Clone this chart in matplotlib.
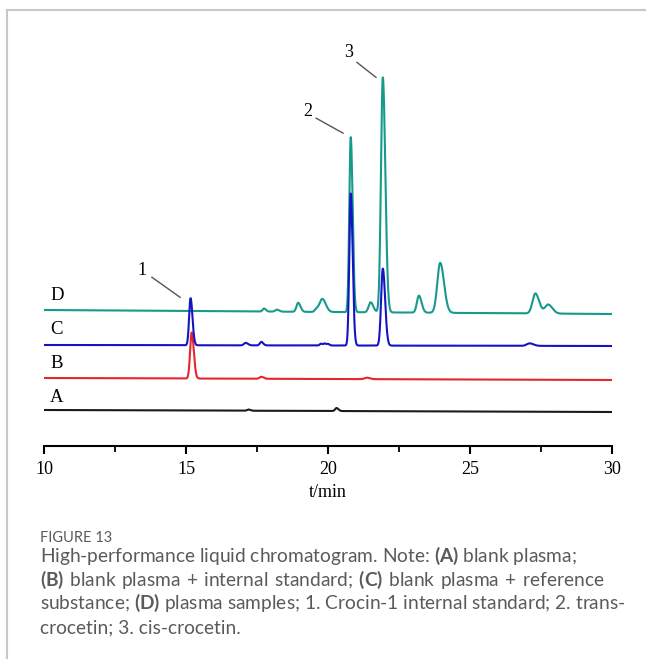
import numpy as np
import matplotlib
matplotlib.use("Agg")
import matplotlib.pyplot as plt
from matplotlib.lines import Line2D

plt.rcParams["mathtext.fontset"] = "custom"
plt.rcParams["mathtext.rm"] = "Lato"
plt.rcParams["mathtext.bf"] = "Lato:bold"

# ---- chromatogram data: baseline level and peak tables (time, height, sigma) ----
traces = ["A", "B", "C", "D"]
colors = {"A": "#1a1a1a", "B": "#e8252d", "C": "#1414c4", "D": "#169a8c"}
baseline_start = {"A": 36.0, "B": 68.0, "C": 101.0, "D": 136.0}
baseline_end = {"A": 34.0, "B": 66.0, "C": 100.0, "D": 132.0}

peaks_A_time = [17.2, 20.3]
peaks_A_height = [1.2, 3.0]
peaks_A_sigma = [0.05, 0.05]

peaks_B_time = [15.2, 17.65, 21.37]
peaks_B_height = [46.0, 2.0, 1.5]
peaks_B_sigma = [0.055, 0.06, 0.08]

peaks_C_time = [15.16, 17.1, 17.65, 19.75, 19.88, 20.0, 20.8, 21.93, 27.1]
peaks_C_height = [47.0, 2.5, 3.5, 1.8, 2.0, 1.5, 152.0, 77.0, 2.5]
peaks_C_sigma = [0.05, 0.06, 0.05, 0.04, 0.04, 0.04, 0.05, 0.06, 0.1]

peaks_D_time = [17.75, 18.2, 18.95, 19.6, 19.8, 20.8, 21.5, 21.93, 23.2, 23.95, 27.3, 27.75]
peaks_D_height = [3.0, 2.0, 9.0, 3.0, 13.0, 175.0, 10.0, 235.0, 17.0, 50.0, 20.0, 9.0]
peaks_D_sigma = [0.05, 0.06, 0.06, 0.06, 0.09, 0.05, 0.07, 0.065, 0.07, 0.1, 0.1, 0.11]

peak_tables = {
    "A": (peaks_A_time, peaks_A_height, peaks_A_sigma),
    "B": (peaks_B_time, peaks_B_height, peaks_B_sigma),
    "C": (peaks_C_time, peaks_C_height, peaks_C_sigma),
    "D": (peaks_D_time, peaks_D_height, peaks_D_sigma),
}

# numbered peak labels: (label, trace, retention time)
peak_labels = [("1", "C", 15.16), ("2", "D", 20.8), ("3", "D", 21.93)]

x_ticks = [10, 15, 20, 25, 30]
x_minor = [12.5, 17.5, 22.5, 27.5]

t = np.linspace(10, 30, 8001)


def trace_signal(name):
    base = np.interp(t, [10, 30], [baseline_start[name], baseline_end[name]])
    times, heights, sigmas = peak_tables[name]
    sig = base.copy()
    for tm, h, s in zip(times, heights, sigmas):
        left = np.exp(-0.5 * ((t - tm) / s) ** 2)
        right = np.exp(-0.5 * ((t - tm) / (s * 1.35)) ** 2)
        sig += h * np.where(t < tm, left, right)
    return sig


def peak_top(name, tm):
    return float(np.interp(tm, t, trace_signal(name)))


fig = plt.figure(figsize=(6.46, 6.59), dpi=100)
W, H = 646, 659

# page frame (top and left rule)
fig.add_artist(Line2D([7 / W, 1.0], [1 - 10 / H, 1 - 10 / H], color="#c8c8c8", lw=1.5))
fig.add_artist(Line2D([7 / W, 7 / W], [0, 1 - 10 / H], color="#c8c8c8", lw=1.5))

ax = fig.add_axes([44 / W, (H - 446) / H, (612 - 44) / W, 406 / H])
ax.set_xlim(10, 30)
ax.set_ylim(0, 406)

# draw D first so C/B sit on top where peaks overlap
for name in ["A", "D", "B", "C"]:
    ax.plot(t, trace_signal(name), color=colors[name], lw=1.5, solid_joinstyle="round")

serif = "Liberation Serif"
label_y = {"A": 49, "B": 83, "C": 117, "D": 151}
for name in traces:
    ax.text(10.45, label_y[name], name, fontsize=13.5, family=serif, ha="center", va="center")

# numbered annotations with leader lines
offsets = {"1": (-1.7, 28, -1.36, 21, -0.37, 1), "2": (-1.5, 26, -1.22, 19, -0.27, 4),
           "3": (-1.19, 25, -0.91, 15, -0.24, 0)}
for lab, name, tm in peak_labels:
    top = peak_top(name, tm)
    dx_l, dy_l, x0, y0, x1, y1 = offsets[lab]
    ax.plot([tm + x0, tm + x1], [top + y0, top + y1], color="#555555", lw=1.0, clip_on=False)
    ax.text(tm + dx_l, top + dy_l, lab, fontsize=13, family=serif, ha="center", va="center")

for s in ["top", "right", "left"]:
    ax.spines[s].set_visible(False)
ax.spines["bottom"].set_linewidth(1.5)
ax.set_yticks([])
ax.set_xticks(x_ticks)
ax.set_xticks(x_minor, minor=True)
ax.tick_params(axis="x", which="major", direction="out", length=6, width=1.5, pad=5)
ax.tick_params(axis="x", which="minor", direction="out", length=4, width=1.3)
for lbl in ax.get_xticklabels():
    lbl.set_fontfamily(serif)
    lbl.set_fontsize(13)
ax.set_xlabel("t/min", fontsize=13, family=serif, labelpad=4)

# caption: one text per line, bold runs via mathtext, extra word gaps for justified lines
cap_font = "Lato"
cap_color = "#5a5a5a"
cap_size = 13.8
fig.text(40 / W, 1 - 542 / H, "FIGURE 13", fontsize=10.5, family=cap_font, color=cap_color,
         va="baseline")
caption_lines = [
    [("High-performance liquid chromatogram. Note: ", False), ("(A)", True),
     (" blank plasma;", False)],
    [("(B)", True), (" blank plasma + internal standard; ", False), ("(C)", True),
     (" blank plasma + reference", False)],
    [("substance; ", False), ("(D)", True),
     (" plasma samples; 1. Crocin-1 internal standard; 2. trans-", False)],
    [("crocetin; 3. cis-crocetin.", False)],
]
line_base = [562, 586, 609, 633]
line_right = [None, 605, 615, None]   # justified lines end at the right margin
fig.canvas.draw()
renderer = fig.canvas.get_renderer()
em_px = cap_size * fig.dpi / 72.0


def build(runs, extra_em):
    out = ""
    for txt, bold in runs:
        if bold:
            out += r"$\mathbf{" + txt + "}$"
        else:
            if extra_em > 0:
                txt = txt.replace(" ", " $\\hspace{%.3f}$" % extra_em)
            out += txt
    return out


for runs, yp, right in zip(caption_lines, line_base, line_right):
    s = build(runs, 0)
    tt = fig.text(40 / W, 1 - yp / H, s, fontsize=cap_size, family=cap_font, color=cap_color,
                  va="baseline")
    if right is not None:
        natural = tt.get_window_extent(renderer).width
        n_gaps = sum(txt.count(" ") for txt, b in runs if not b)
        extra = (right - 40 - natural) / n_gaps / em_px
        tt.set_text(build(runs, extra))

fig.savefig("out.png", dpi=100)
